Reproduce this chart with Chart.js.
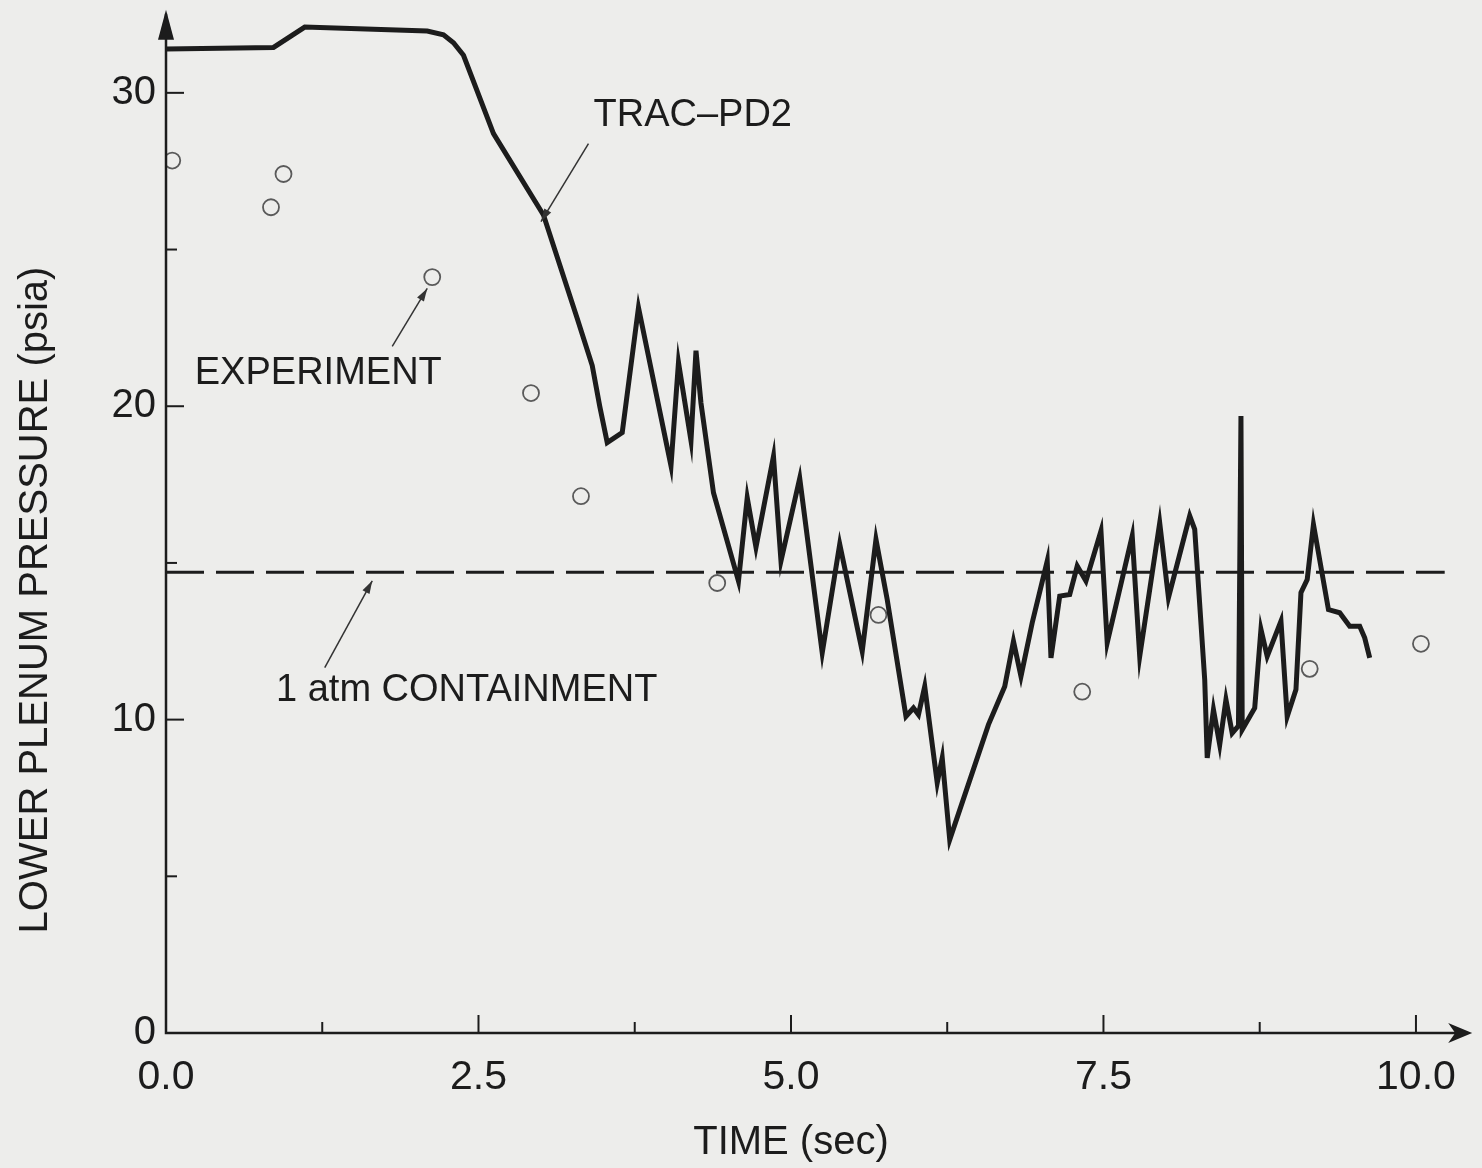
<!DOCTYPE html>
<html>
<head>
<meta charset="utf-8">
<title>Lower plenum pressure</title>
<script src="https://cdn.jsdelivr.net/npm/chart.js@4.4.1/dist/chart.umd.min.js"></script>
<style>
  html, body { margin: 0; padding: 0; background: #ededeb; }
  canvas { display: block; }
</style>
</head>
<body>
<canvas id="pressure-chart" width="1482" height="1168"></canvas>
<script>
// TRAC-PD2 calculation (time in s, pressure in psia)
const tracTime = [0.0, 0.86, 1.11, 2.09, 2.22, 2.30, 2.38, 2.62, 3.02, 3.29, 3.41, 3.47, 3.53,
    3.65, 3.78, 4.04, 4.10, 4.20, 4.24, 4.28, 4.38, 4.58, 4.65, 4.72, 4.86, 4.92, 5.07, 5.25,
    5.39, 5.57, 5.68, 5.77, 5.92, 5.98, 6.02, 6.07, 6.17, 6.21, 6.27, 6.58, 6.71, 6.78, 6.84,
    6.93, 7.05, 7.08, 7.15, 7.23, 7.29, 7.36, 7.48, 7.53, 7.73, 7.79, 7.95, 8.02, 8.19, 8.23,
    8.31, 8.33, 8.38, 8.43, 8.48, 8.53, 8.58, 8.60, 8.61, 8.71, 8.76, 8.81, 8.92, 8.97, 9.04,
    9.08, 9.13, 9.18, 9.30, 9.39, 9.47, 9.55, 9.59, 9.63];
const tracPressure = [31.4, 31.45, 32.1, 31.97, 31.85, 31.6, 31.2, 28.7, 26.1, 22.8, 21.3, 20.0, 18.84,
    19.16, 23.15, 18.1, 21.4, 18.9, 21.77, 20.1, 17.24, 14.42, 17.08, 15.5, 18.4, 15.06, 17.7, 12.13,
    15.6, 12.18, 15.75, 13.83, 10.1, 10.37, 10.16, 11.06, 7.98, 8.78, 6.17, 9.84, 11.06, 12.5, 11.38,
    13.09, 15.06, 11.97, 13.94, 13.99, 14.9, 14.42, 16.02, 12.45, 15.86, 12.02, 16.28, 13.89, 16.5, 16.07,
    11.28, 8.78, 10.32, 9.2, 10.64, 9.57, 9.8, 19.69, 9.68, 10.37, 12.88, 12.02, 13.14, 10.1, 10.96,
    14.05, 14.47, 16.23, 13.51, 13.41, 12.98, 12.98, 12.61, 11.97];

// Experiment data points
const expTime = [0.05, 0.84, 0.94, 2.13, 2.92, 3.32, 4.41, 5.70, 7.33, 9.15, 10.04];
const expPressure = [27.84, 26.35, 27.41, 24.12, 20.42, 17.13, 14.36, 13.34, 10.89, 11.62, 12.42];

// 1 atm containment reference
const containmentTime = [0.0, 10.23];
const containmentPressure = [14.7, 14.7];

// Tick labels
const xTickLabels = ['0.0', '2.5', '5.0', '7.5', '10.0'];
const yTickLabels = ['0', '10', '20', '30'];

function toPoints(xs, ys) {
    return xs.map(function (x, i) { return { x: x, y: ys[i] }; });
}

const ink = '#1c1c1c';
const sans = "'Liberation Sans', Arial, Helvetica, sans-serif";

function arrowLine(ctx, x1, y1, x2, y2, len, half) {
    ctx.beginPath();
    ctx.moveTo(x1, y1);
    ctx.lineTo(x2, y2);
    ctx.stroke();
    const a = Math.atan2(y2 - y1, x2 - x1);
    ctx.beginPath();
    ctx.moveTo(x2, y2);
    ctx.lineTo(x2 - len * Math.cos(a) + half * Math.sin(a), y2 - len * Math.sin(a) - half * Math.cos(a));
    ctx.lineTo(x2 - len * Math.cos(a) - half * Math.sin(a), y2 - len * Math.sin(a) + half * Math.cos(a));
    ctx.closePath();
    ctx.fill();
}

// Axes with arrows, inward ticks, titles and the hand-drawn labels
const decor = {
    id: 'decor',
    beforeDraw: function (chart) {
        const ctx = chart.ctx;
        ctx.save();
        ctx.fillStyle = '#ededeb';
        ctx.fillRect(0, 0, chart.width, chart.height);
        ctx.restore();
    },
    afterDraw: function (chart) {
        const ctx = chart.ctx;
        const area = chart.chartArea;
        const xs = chart.scales.x, ys = chart.scales.y;
        ctx.save();
        ctx.strokeStyle = ink;
        ctx.fillStyle = ink;
        ctx.lineWidth = 2.5;

        // axis lines
        ctx.beginPath();
        ctx.moveTo(area.left, area.top + 4);
        ctx.lineTo(area.left, area.bottom);
        ctx.lineTo(area.right - 6, area.bottom);
        ctx.stroke();
        // y arrow
        ctx.beginPath();
        ctx.moveTo(area.left, area.top);
        ctx.lineTo(area.left - 8, area.top + 30);
        ctx.lineTo(area.left + 8, area.top + 30);
        ctx.closePath();
        ctx.fill();
        // x arrow
        ctx.beginPath();
        ctx.moveTo(area.right, area.bottom);
        ctx.lineTo(area.right - 24, area.bottom - 10);
        ctx.lineTo(area.right - 17, area.bottom);
        ctx.lineTo(area.right - 24, area.bottom + 10);
        ctx.closePath();
        ctx.fill();

        // inward ticks
        ctx.lineWidth = 2;
        xs.ticks.forEach(function (t) {
            if (t.value > 10.01 || t.value === 0) return;
            const px = xs.getPixelForValue(t.value);
            const major = Math.abs(t.value / 2.5 - Math.round(t.value / 2.5)) < 1e-6;
            ctx.beginPath();
            ctx.moveTo(px, area.bottom);
            ctx.lineTo(px, area.bottom - (major ? 18 : 11));
            ctx.stroke();
        });
        ys.ticks.forEach(function (t) {
            if (t.value > 30.01 || t.value === 0) return;
            const py = ys.getPixelForValue(t.value);
            const major = Math.abs(t.value % 10) < 1e-6;
            ctx.beginPath();
            ctx.moveTo(area.left, py);
            ctx.lineTo(area.left + (major ? 18 : 11), py);
            ctx.stroke();
        });

        // axis titles
        ctx.font = '40px ' + sans;
        ctx.textAlign = 'center';
        ctx.textBaseline = 'middle';
        ctx.fillText('TIME (sec)', xs.getPixelForValue(5.0), 1143);
        ctx.save();
        ctx.translate(36, 600);
        ctx.rotate(-Math.PI / 2);
        ctx.fillText('LOWER PLENUM PRESSURE (psia)', 0, 0);
        ctx.restore();

        // labels with pointer arrows
        ctx.font = '38px ' + sans;
        ctx.textAlign = 'left';
        ctx.textBaseline = 'alphabetic';
        ctx.fillText('TRAC\u2013PD2', xs.getPixelForValue(3.42), ys.getPixelForValue(28.95));
        ctx.fillText('EXPERIMENT', xs.getPixelForValue(0.23), ys.getPixelForValue(20.7));
        ctx.fillText('1 atm CONTAINMENT', xs.getPixelForValue(0.88), ys.getPixelForValue(10.6));

        ctx.lineWidth = 1.5;
        ctx.strokeStyle = '#333';
        ctx.fillStyle = '#333';
        arrowLine(ctx, xs.getPixelForValue(3.38), ys.getPixelForValue(28.38),
            xs.getPixelForValue(3.00), ys.getPixelForValue(25.89), 13, 4);
        arrowLine(ctx, xs.getPixelForValue(1.81), ys.getPixelForValue(21.91),
            xs.getPixelForValue(2.09), ys.getPixelForValue(23.76), 13, 4);
        arrowLine(ctx, xs.getPixelForValue(1.27), ys.getPixelForValue(11.66),
            xs.getPixelForValue(1.65), ys.getPixelForValue(14.43), 13, 4);
        ctx.restore();
    }
};

const pressureChart = new Chart(document.getElementById('pressure-chart'), {
    type: 'line',
    data: {
        datasets: [{
            label: '1 atm CONTAINMENT',
            data: toPoints(containmentTime, containmentPressure),
            borderColor: ink,
            borderWidth: 3,
            borderDash: [38, 12],
            pointRadius: 0,
            fill: false
        }, {
            label: 'TRAC-PD2',
            data: toPoints(tracTime, tracPressure),
            borderColor: ink,
            borderWidth: 5,
            pointRadius: 0,
            tension: 0,
            fill: false
        }, {
            label: 'EXPERIMENT',
            data: toPoints(expTime, expPressure),
            showLine: false,
            pointStyle: 'circle',
            pointRadius: 8,
            pointBorderWidth: 1.8,
            pointBorderColor: '#5a5a5a',
            pointBackgroundColor: 'rgba(0,0,0,0)'
        }]
    },
    options: {
        responsive: false,
        devicePixelRatio: 1,
        animation: false,
        layout: { padding: { top: 8, right: 3, left: 0, bottom: 0 } },
        plugins: {
            legend: { display: false },
            tooltip: { enabled: false }
        },
        scales: {
            x: {
                type: 'linear',
                min: 0,
                max: 10.45,
                grid: { display: false, drawTicks: false },
                border: { display: false },
                ticks: {
                    stepSize: 1.25,
                    includeBounds: false,
                    padding: 20,
                    color: ink,
                    maxRotation: 0,
                    autoSkip: false,
                    font: { family: sans, size: 41 },
                    callback: function (v) {
                        const k = Math.round(v / 2.5);
                        if (Math.abs(v - k * 2.5) < 1e-6 && k >= 0 && k < xTickLabels.length) return xTickLabels[k];
                        return '';
                    }
                },
                afterFit: function (scale) {
                    scale.height = 135;
                    scale.paddingLeft = 0;
                    scale.paddingRight = 0;
                }
            },
            y: {
                type: 'linear',
                min: 0,
                max: 32.65,
                grid: { display: false, drawTicks: false },
                border: { display: false },
                ticks: {
                    stepSize: 5,
                    includeBounds: false,
                    padding: 10,
                    color: ink,
                    autoSkip: false,
                    font: { family: sans, size: 40 },
                    callback: function (v) {
                        const k = Math.round(v / 10);
                        if (Math.abs(v - k * 10) < 1e-6 && k >= 0 && k < yTickLabels.length) return yTickLabels[k];
                        return '';
                    }
                },
                afterFit: function (scale) {
                    scale.width = 166;
                    scale.paddingTop = 0;
                    scale.paddingBottom = 0;
                }
            }
        }
    },
    plugins: [decor]
});
</script>
</body>
</html>
